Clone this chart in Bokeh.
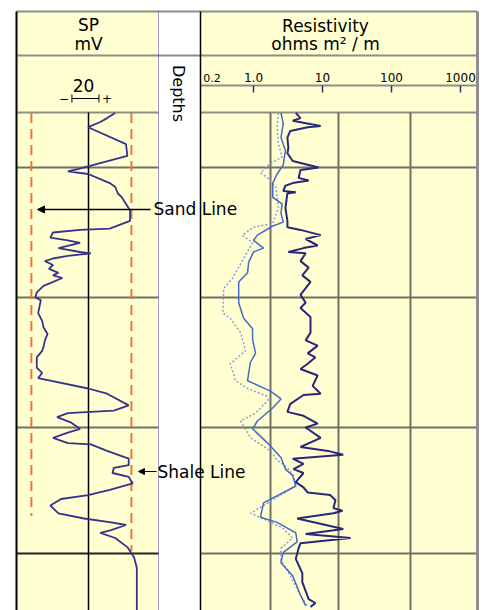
import math
from bokeh.plotting import figure
from bokeh.models import Range1d, LogScale, Arrow, NormalHead
from bokeh.core.properties import value
from bokeh.embed import file_html
from bokeh.resources import INLINE

# ---------------- data ----------------
sp_depth = [958, 962, 965, 969, 982, 991, 1001, 1003, 1005, 1012, 1015, 1020, 1023, 1033, 1041,
            1047, 1048, 1050, 1054, 1056, 1058, 1062, 1065, 1066, 1068, 1070, 1072, 1075, 1078,
            1081, 1083, 1085, 1091, 1096, 1100, 1102, 1112, 1118, 1123, 1128, 1133, 1138, 1141,
            1146, 1154, 1158, 1162, 1170, 1174, 1183, 1187, 1188, 1189, 1192, 1196, 1201, 1204,
            1208, 1212, 1213, 1218, 1224, 1229, 1231, 1235, 1238, 1243, 1248, 1252, 1255, 1260,
            1266, 1270, 1273, 1275, 1279, 1281, 1285, 1292, 1300, 1308, 1341]
sp_mv = [-12, -18, -23, -32, -4, -3, -39, -47, -32, -16, -12, -10, -7, -1, -1,
         -16, -38, -58, -60, -47, -38, -54, -38, -30, -47, -58, -64, -58, -61,
         -54, -58, -51, -65, -70, -71, -67, -69, -66, -65, -62, -64, -65, -66,
         -70, -70, -66, -69, -32, -18, -2, -13, -30, -47, -55, -45, -38, -47,
         -58, -47, -30, -18, -2, -2, -13, -14, -2, 1, -16, -32, -52, -60,
         -54, -35, -15, -4, -15, -23, -12, -3, 2, 4, 4]

deep_depth = [958, 962, 964, 968, 969, 972, 977, 985, 989, 995, 1000, 1002, 1008, 1010, 1012,
              1014, 1018, 1019, 1020, 1031, 1041, 1046, 1048, 1052, 1055, 1060, 1062, 1065, 1066,
              1072, 1077, 1083, 1088, 1098, 1104, 1108, 1115, 1127, 1133, 1137, 1143, 1146, 1151,
              1155, 1160, 1168, 1174, 1175, 1182, 1188, 1191, 1197, 1200, 1208, 1215, 1218, 1221,
              1224, 1228, 1232, 1235, 1242, 1246, 1250, 1252, 1256, 1262, 1264, 1266, 1270, 1278,
              1282, 1285, 1289, 1293, 1301, 1312, 1319, 1332, 1335, 1338]
deep_res = [4.1, 4.8, 3.7, 9.4, 6.1, 3.4, 3.1, 3.2, 3.1, 3.7, 8.8, 4.8, 4.5, 6.3, 3.7,
            2.9, 2.7, 4.1, 3.1, 2.9, 3.1, 3.1, 4.8, 9.4, 5.7, 8.5, 5.3, 3.2, 5.7,
            4.8, 6.3, 5.1, 6.7, 4.8, 5.7, 4.8, 6.7, 6.7, 5.7, 8.5, 6.1, 7.9, 6.1,
            4.8, 8.5, 7.2, 9.4, 5.3, 3.4, 3.1, 5.3, 8.5, 5.7, 9.4, 4.8, 12, 20,
            3.7, 5.3, 3.8, 5.3, 4.1, 5.3, 6.1, 13, 15.4, 14.4, 19.5, 14.4, 4.3, 20,
            5.7, 25.5, 4.8, 4.5, 4.1, 5.1, 5.1, 6.3, 7.9, 6.7]

mid_depth = [958, 966, 977, 987, 998, 1005, 1012, 1023, 1028, 1035, 1042, 1045, 1052, 1056, 1062,
             1065, 1073, 1081, 1088, 1104, 1116, 1124, 1132, 1143, 1150, 1164, 1172, 1178, 1185,
             1195, 1201, 1212, 1223, 1232, 1237, 1245, 1258, 1269, 1273, 1281, 1288, 1296, 1304,
             1314, 1329, 1337]
mid_res = [2.5, 2.7, 2.5, 2.9, 2.7, 2.2, 1.9, 1.9, 2.6, 2.5, 2.7, 1.9, 1.14, 1.0, 1.4,
           1.0, 0.85, 0.82, 0.61, 0.61, 0.72, 0.97, 0.97, 1.07, 0.9, 0.82, 1.76, 2.5, 1.9,
           1.14, 0.97, 1.6, 2.5, 2.9, 3.7, 4.1, 1.4, 1.26, 2.2, 4.1, 4.3, 2.7, 2.5,
           3.7, 4.8, 5.7]

sh_depth = [958, 969, 982, 992, 997, 1004, 1008, 1015, 1031, 1043, 1046, 1052, 1058, 1078, 1085,
            1093, 1112, 1116, 1127, 1141, 1151, 1164, 1170, 1177, 1189, 1195, 1208, 1218, 1225,
            1231, 1237, 1245, 1266, 1270, 1277, 1285, 1293, 1302, 1314, 1329, 1338]
sh_res = [2.3, 2.2, 2.3, 2.6, 1.76, 1.26, 1.6, 2.1, 2.3, 1.9, 1.0, 0.69, 0.97, 0.59, 0.50,
          0.37, 0.36, 0.46, 0.65, 0.77, 0.46, 0.55, 0.82, 1.76, 1.07, 0.65, 0.91, 1.76, 2.2,
          3.1, 3.8, 4.1, 0.91, 1.35, 2.6, 3.7, 2.5, 2.5, 3.4, 4.8, 6.1]

res_tick_values = [0.2, 1.0, 10, 100, 1000]
res_tick_labels = ["0.2", "1.0", "10", "100", "1000"]
sp_scale_mv = [-44, -24]          # 20 mV scale bar
sp_scale_label = "20"
sand_line_mv = -74
shale_line_mv = 0
sand_line_end_depth = 1268
shale_line_end_depth = 1295
depth_grid = [1000, 1100, 1200, 1297]

# ---------------- layout (page pixels) ----------------
W, H = 486, 610
X0, Y0 = 0, 0
SP_PX0, SP_MV0, SP_K = 16, -85, 1.352      # SP track mapping
RES_PX1, RES_DEC = 253, 69                 # px of R=1, px per decade
D_PY0, D_0, D_K = 167, 1000, 1.3           # depth mapping

YEL = "#FFFFD2"
GRID = "#707064"
SP_COLOR = "#34348C"
DEEP = "#28287A"
MID = "#4569C6"
SHALLOW = "#8A9CD8"
ORANGE = "#EE7438"
FONT = value("DejaVu Sans")

p = figure(width=W, height=H, output_backend="svg", toolbar_location=None,
           x_range=Range1d(X0, X0 + W), y_range=Range1d(Y0 + H, Y0),
           min_border=0, x_axis_type=None, y_axis_type=None)
p.outline_line_color = None
p.background_fill_color = "white"
p.border_fill_color = "white"
p.extra_x_ranges = {
    "sp": Range1d(SP_MV0 + (X0 - SP_PX0) / SP_K, SP_MV0 + (X0 + W - SP_PX0) / SP_K),
    "res": Range1d(10 ** ((X0 - RES_PX1) / RES_DEC), 10 ** ((X0 + W - RES_PX1) / RES_DEC)),
}
p.extra_x_scales = {"res": LogScale()}
p.extra_y_ranges = {"depth": Range1d(D_0 + (Y0 + H - D_PY0) / D_K, D_0 + (Y0 - D_PY0) / D_K)}

# track backgrounds
p.quad(left=[16, 200], right=[158, 477], top=[11, 11], bottom=[610, 610],
       fill_color=YEL, line_color=None)

# header lines
p.segment(x0=[16, 16, 200, 16, 200], x1=[477, 477, 477, 158, 477],
          y0=[11, 55, 85, 112, 112], y1=[11, 55, 85, 112, 112],
          line_color="#8e8e82", line_width=2)

# depth grid lines (horizontal)
p.segment(x0=[16] * 3 + [200] * 4, x1=[158] * 3 + [477] * 4,
          y0=depth_grid[:3] + depth_grid, y1=depth_grid[:3] + depth_grid,
          y_range_name="depth", line_color=GRID, line_width=2)
p.segment(x0=[16], x1=[158], y0=depth_grid[3:], y1=depth_grid[3:],
          y_range_name="depth", line_color="#222222", line_width=2)

# vertical grid lines
p.segment(x0=[270, 338, 410], x1=[270, 338, 410], y0=[112] * 3, y1=[610] * 3,
          line_color=GRID, line_width=2)
p.segment(x0=[88], x1=[88], y0=[112], y1=[610], line_color="black", line_width=1.5)

# borders
p.segment(x0=[16], x1=[16], y0=[11], y1=[610], line_color="black", line_width=2)
p.segment(x0=[158], x1=[158], y0=[11], y1=[610], line_color="#3a3a9a", line_width=1,
          line_dash="1 1")
p.segment(x0=[200], x1=[200], y0=[11], y1=[610], line_color="black", line_width=1.5)
p.segment(x0=[477], x1=[477], y0=[11], y1=[610], line_color="#8e8e8e", line_width=3)

# resistivity scale ticks + labels
p.segment(x0=res_tick_values[1:], x1=res_tick_values[1:], y0=[85] * 4, y1=[92] * 4,
          x_range_name="res", line_color="#303070", line_width=1.5)
p.text(x=res_tick_values[:1], y=[77], text=res_tick_labels[:1], x_range_name="res",
       text_align="left", text_baseline="middle", text_font=FONT,
       text_font_size="11px", text_color="black", x_offset=-2)
p.text(x=res_tick_values[1:], y=[77] * 4, text=res_tick_labels[1:], x_range_name="res",
       text_align="center", text_baseline="middle", text_font=FONT,
       text_font_size="12px", text_color="black")

# SP scale bar
p.segment(x0=[sp_scale_mv[0]], x1=[sp_scale_mv[1]], y0=[98], y1=[98],
          x_range_name="sp", line_color="black", line_width=1)
p.segment(x0=sp_scale_mv, x1=sp_scale_mv, y0=[94, 94], y1=[102, 102],
          x_range_name="sp", line_color="black", line_width=1)
p.text(x=[sum(sp_scale_mv) / 2], y=[85], text=[sp_scale_label], x_range_name="sp",
       text_align="center", text_baseline="middle", text_font=FONT,
       text_font_size="17px", text_color="black", x_offset=-2)
p.text(x=[sp_scale_mv[0], sp_scale_mv[1]], y=[98, 98], text=["\u2212", "+"],
       x_range_name="sp", x_offset=[-8, 8], text_align="center", text_baseline="middle",
       text_font=FONT, text_font_size="12px", text_color="black")

# header titles
p.text(x=[88, 88, 325, 325], y=[24, 43, 25, 43],
       text=["SP", "mV", "Resistivity", "ohms m\u00b2 / m"],
       text_align="center", text_baseline="middle", text_font=FONT,
       text_font_size="17px", text_color="black")
p.text(x=[178], y=[93], text=["Depths"], angle=-math.pi / 2,
       text_align="center", text_baseline="middle", text_font=FONT,
       text_font_size="16px", text_color="black")

# sand / shale lines
p.segment(x0=[sand_line_mv, shale_line_mv], x1=[sand_line_mv, shale_line_mv],
          y0=[958, 958], y1=[sand_line_end_depth, shale_line_end_depth],
          x_range_name="sp", y_range_name="depth",
          line_color=ORANGE, line_width=2, line_dash="10 6")

# curves
p.line(x=sh_res, y=sh_depth, x_range_name="res", y_range_name="depth",
       line_color=SHALLOW, line_width=1.5, line_dash="2 2")
p.line(x=mid_res, y=mid_depth, x_range_name="res", y_range_name="depth",
       line_color=MID, line_width=1.5)
p.line(x=deep_res, y=deep_depth, x_range_name="res", y_range_name="depth",
       line_color=DEEP, line_width=2)
p.line(x=sp_mv, y=sp_depth, x_range_name="sp", y_range_name="depth",
       line_color=SP_COLOR, line_width=1.8)

# annotations
p.add_layout(Arrow(end=NormalHead(size=7, fill_color="black", line_color="black"),
                   x_start=150, y_start=209, x_end=37, y_end=209,
                   line_color="black", line_width=1.5))
p.add_layout(Arrow(end=NormalHead(size=6, fill_color="black", line_color="black"),
                   x_start=156, y_start=471, x_end=138, y_end=471,
                   line_color="black", line_width=1.2))
p.text(x=[153, 157], y=[208, 471], text=["Sand Line", "Shale Line"],
       text_align="left", text_baseline="middle", text_font=FONT,
       text_font_size="17px", text_color="black")

open("out.html", "w").write(file_html(p, INLINE))
